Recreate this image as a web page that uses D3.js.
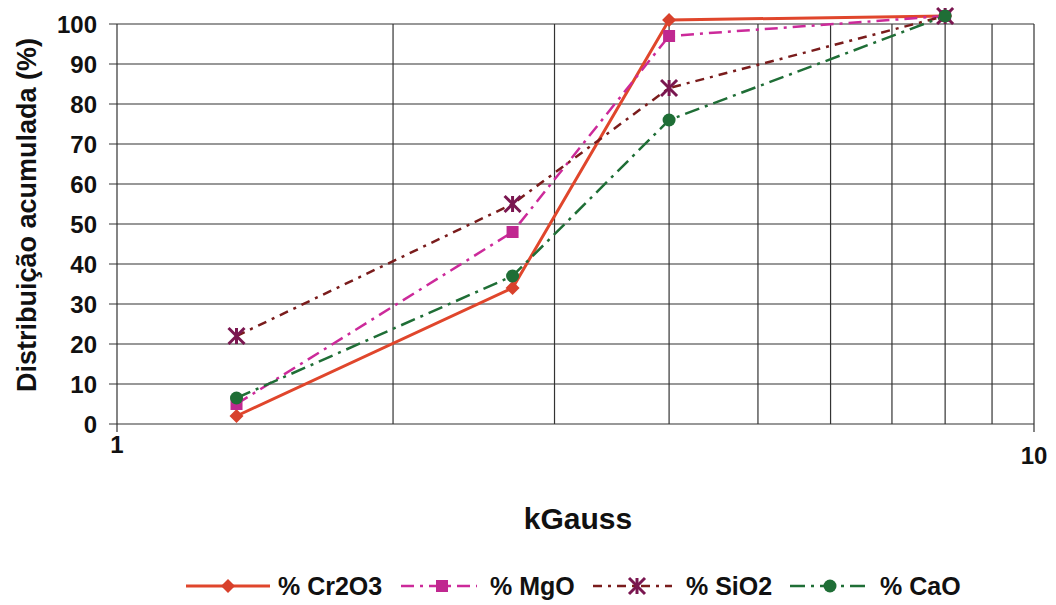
<!DOCTYPE html>
<html><head><meta charset="utf-8">
<script src="https://cdn.jsdelivr.net/npm/d3@7"></script>
<style>body{margin:0;background:#fff}svg{display:block}text{font-family:"Liberation Sans",Arial,sans-serif;font-weight:bold;fill:#111}</style>
</head><body><svg id="c" width="1056" height="605"></svg>
<script>
const xValues = [1.35, 2.7, 4, 8];
const seriesNames = ["% Cr2O3", "% MgO", "% SiO2", "% CaO"];
const cr2o3 = [2, 34, 101, 102];
const mgo = [5, 48, 97, 102];
const sio2 = [22, 55, 84, 102];
const cao = [6.5, 37, 76, 102];
const yTicks = [0, 10, 20, 30, 40, 50, 60, 70, 80, 90, 100];
const xGrid = [1, 2, 3, 4, 5, 6, 7, 8, 9, 10];
const xTickLabels = [1, 10];

const styles = [
  {color: "#e0462c", dash: null, width: 3, marker: "diamond", mcolor: "#d8412c"},
  {color: "#cc2a9a", dash: "13,6,3,6", width: 2.5, marker: "square", mcolor: "#c02890"},
  {color: "#7a1c1c", dash: "9,6,3,6", width: 2.5, marker: "star", mcolor: "#7a1650"},
  {color: "#1f6e36", dash: "15,6,3,6", width: 2.5, marker: "circle", mcolor: "#1f6e36"}
];
const data = [cr2o3, mgo, sio2, cao];

const svg = d3.select("#c");
const x = d3.scaleLog().domain([1, 10]).range([117, 1034]);
const y = d3.scaleLinear().domain([0, 100]).range([424, 24]);

const g = svg.append("g");
g.selectAll(".hg").data(yTicks).join("line")
  .attr("x1", 109).attr("x2", 1034).attr("y1", d => y(d)).attr("y2", d => y(d))
  .attr("stroke", "#333").attr("stroke-width", 1.2);
g.selectAll(".vg").data(xGrid).join("line")
  .attr("x1", d => x(d)).attr("x2", d => x(d)).attr("y1", 24).attr("y2", d => (d === 1 || d === 10) ? 432 : 424)
  .attr("stroke", "#333").attr("stroke-width", 1.2);

g.selectAll(".yl").data(yTicks).join("text")
  .attr("x", 97).attr("y", d => y(d) + 8.5).attr("text-anchor", "end")
  .attr("font-size", 24).text(d => d);
g.selectAll(".xl").data(xTickLabels).join("text")
  .attr("x", d => x(d)).attr("y", d => d === 1 ? 453 : 464).attr("text-anchor", "middle")
  .attr("font-size", 24).text(d => d);

svg.append("text").attr("x", 578).attr("y", 529).attr("text-anchor", "middle")
  .attr("font-size", 30).text("kGauss");
svg.append("text").attr("transform", "translate(36,215) rotate(-90)").attr("text-anchor", "middle")
  .attr("font-size", 27).text("Distribuição acumulada (%)");

function drawMarker(sel, type, cx, cy, color) {
  if (type === "diamond") {
    sel.append("path").attr("d", `M${cx},${cy-7}L${cx+7},${cy}L${cx},${cy+7}L${cx-7},${cy}Z`).attr("fill", color);
  } else if (type === "square") {
    sel.append("rect").attr("x", cx-6).attr("y", cy-6).attr("width", 12).attr("height", 12).attr("fill", color);
  } else if (type === "circle") {
    sel.append("circle").attr("cx", cx).attr("cy", cy).attr("r", 6.5).attr("fill", color);
  } else {
    const r = 8;
    [[-r, -r, r, r], [-r, r, r, -r], [0, -r, 0, r]].forEach(s => {
      sel.append("line").attr("x1", cx+s[0]).attr("y1", cy+s[1]).attr("x2", cx+s[2]).attr("y2", cy+s[3])
        .attr("stroke", color).attr("stroke-width", 3);
    });
  }
}

const line = d3.line().x((d, i) => x(xValues[i])).y(d => y(d));
data.forEach((vals, si) => {
  const s = styles[si];
  g.append("path").attr("d", line(vals)).attr("fill", "none")
    .attr("stroke", s.color).attr("stroke-width", s.width)
    .attr("stroke-dasharray", s.dash);
});
data.forEach((vals, si) => {
  const s = styles[si];
  vals.forEach((v, i) => drawMarker(g, s.marker, x(xValues[i]), y(v), s.mcolor));
});

const legendPos = [
  {x1: 186, x2: 270, m: 228, t: 278},
  {x1: 401, x2: 477, m: 442, t: 490},
  {x1: 593, x2: 672, m: 637, t: 686},
  {x1: 790, x2: 867, m: 830, t: 880}
];
const ly = 586;
const lg = svg.append("g");
seriesNames.forEach((name, i) => {
  const p = legendPos[i], s = styles[i];
  lg.append("line").attr("x1", p.x1).attr("x2", p.x2).attr("y1", ly).attr("y2", ly)
    .attr("stroke", s.color).attr("stroke-width", s.width).attr("stroke-dasharray", s.dash);
  drawMarker(lg, s.marker, p.m, ly, s.mcolor);
  lg.append("text").attr("x", p.t).attr("y", ly + 9).attr("font-size", 25).text(name);
});
</script></body></html>
